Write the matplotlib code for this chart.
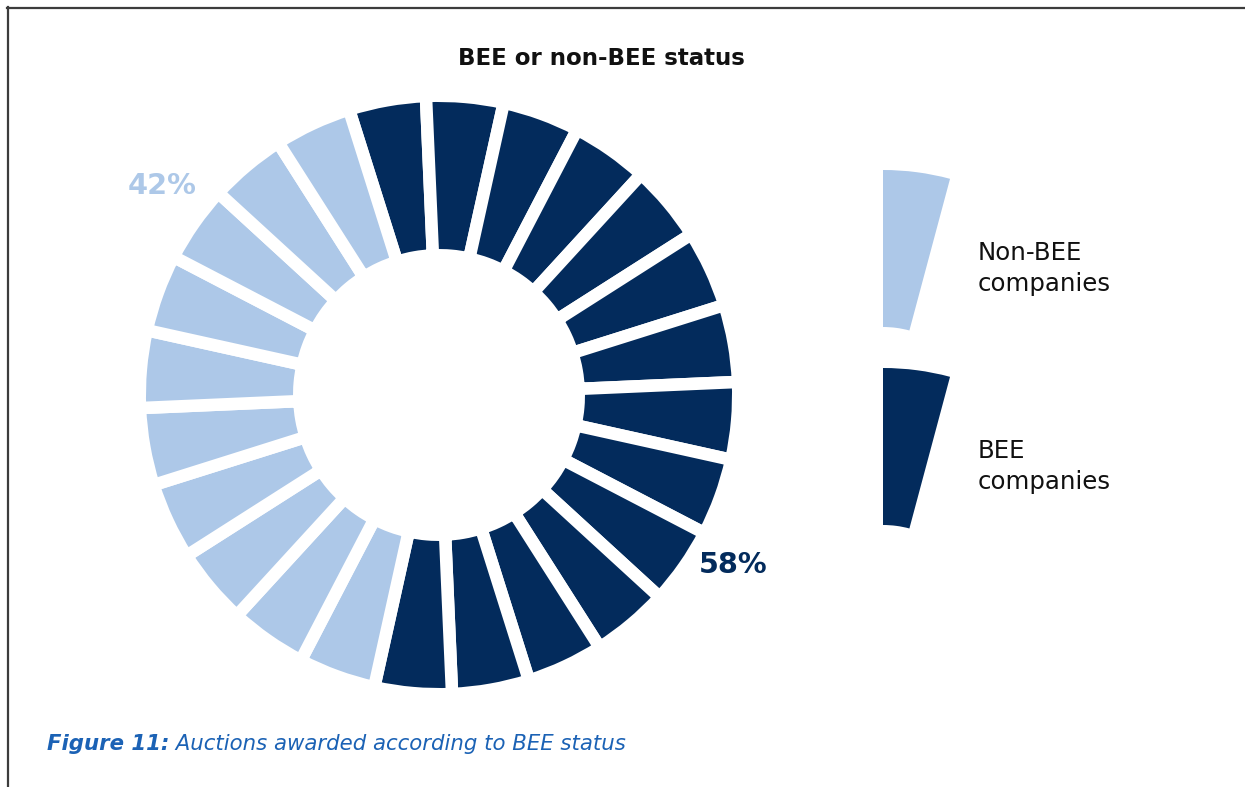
import matplotlib
matplotlib.use("Agg")
import matplotlib.pyplot as plt
from matplotlib.patches import Wedge
from matplotlib.lines import Line2D

# ---- data -------------------------------------------------------------
title = "BEE or non-BEE status"
categories = ["BEE companies", "Non-BEE companies"]
shares = [58, 42]                      # percent of auctions awarded
n_segments = 24                        # ring is split into equal blocks
legend_lines = [["Non-BEE", "companies"], ["BEE", "companies"]]
caption_bold = "Figure 11:"
caption_text = " Auctions awarded according to BEE status"

# ---- style ------------------------------------------------------------
NAVY = "#032b5c"
LIGHT = "#adc8e8"
CAPTION_BLUE = "#1b62b5"
FRAME = "#3c3c3c"
W, H = 1245, 787

plt.rcParams["font.family"] = ["DejaVu Sans"]

fig = plt.figure(figsize=(W / 100, H / 100), dpi=100)
ax = fig.add_axes([0, 0, 1, 1])

# segmented ring: BEE blocks first (clockwise from just left of 12 o'clock)
n_bee = round(shares[0] / 100 * n_segments)
seg_colors = [NAVY] * n_bee + [LIGHT] * (n_segments - n_bee)
ax.pie([1] * n_segments, colors=seg_colors, startangle=107.5,
       counterclock=False, center=(439, H - 395), radius=299.25,
       wedgeprops=dict(width=159.5, edgecolor="white", linewidth=9))

ax.set_xlim(0, W)
ax.set_ylim(0, H)
ax.set_aspect("equal")
ax.axis("off")

# percentage labels
ax.text(128, H - 194, f"{shares[1]}%", color=LIGHT, fontsize=20.7,
        fontweight="bold", ha="left", va="baseline")
ax.text(699, H - 573, f"{shares[0]}%", color=NAVY, fontsize=20.7,
        fontweight="bold", ha="left", va="baseline")

# title
ax.text(601.5, H - 65, title, fontsize=16.5, fontweight="bold",
        color="#111111", ha="center", va="baseline")

# legend: a single ring block per category
key_colors = [LIGHT, NAVY]
key_tops = [170, 368]
for color, top, lines in zip(key_colors, key_tops, legend_lines):
    ax.add_patch(Wedge((883, H - (top + 259)), 259, 75, 90, width=157,
                       facecolor=color, edgecolor="none"))
    base = top + 90
    for i, line in enumerate(lines):
        ax.text(978, H - (base + 31.5 * i), line, fontsize=17.6,
                color="#111111", ha="left", va="baseline")

# caption
t1 = ax.text(47, H - 750, caption_bold, fontsize=15.3, fontweight="bold",
             style="italic", color=CAPTION_BLUE, ha="left", va="baseline")
ax.annotate(caption_text, xy=(1, 0), xycoords=t1, fontsize=15.3,
            style="italic", color=CAPTION_BLUE, ha="left", va="bottom")

# frame lines along the top and left edges
fig.add_artist(Line2D([6.5 / W, 1], [1 - 7.5 / H] * 2,
                      transform=fig.transFigure, color=FRAME, lw=1.6))
fig.add_artist(Line2D([7.5 / W] * 2, [0, 1 - 6.5 / H],
                      transform=fig.transFigure, color=FRAME, lw=1.6))

fig.savefig("out.png", dpi=100, facecolor="white")
